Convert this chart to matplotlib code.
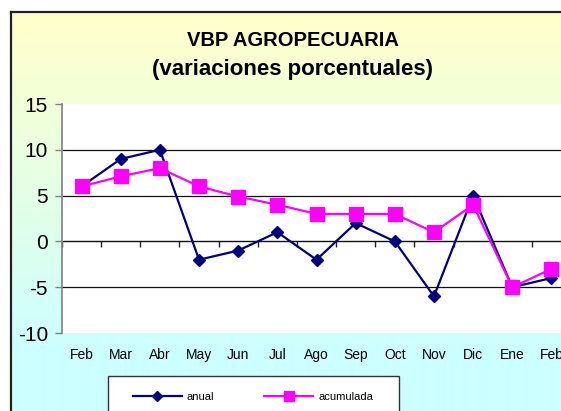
import numpy as np
import matplotlib
matplotlib.use("Agg")
import matplotlib.pyplot as plt
from matplotlib.patches import Rectangle
from matplotlib.lines import Line2D

plt.rcParams['font.family'] = ['Liberation Sans', 'DejaVu Sans']

months = ["Feb", "Mar", "Abr", "May", "Jun", "Jul", "Ago", "Sep", "Oct",
          "Nov", "Dic", "Ene", "Feb"]
anual = [6, 9, 10, -2, -1, 1, -2, 2, 0, -6, 5, -5, -4]
acumulada = [6, 7.1, 8, 6, 4.9, 4, 3, 3, 3, 1, 4, -5, -3]
yticks = [-10, -5, 0, 5, 10, 15]
title1 = "VBP AGROPECUARIA"
title2 = "(variaciones porcentuales)"

W, H = 561, 411
fig = plt.figure(figsize=(W / 100, H / 100), dpi=100)

# background gradient (yellow -> cyan)
bg = fig.add_axes([0, 0, 1, 1], zorder=0)
bg.set_axis_off()
bg.set_xlim(0, W)
bg.set_ylim(H, 0)
top = np.array([1.0, 1.0, 0.80])
bot = np.array([0.80, 1.0, 1.0])
ys = np.linspace(0, H, 400)
t = np.clip((ys - 12) / (345 - 12), 0, 1)[:, None]
grad = (top * (1 - t) + bot * t)[:, None, :]
bg.imshow(grad, extent=[11, W, H, 12], aspect='auto', interpolation='bilinear')
bg.add_patch(Rectangle((0, 0), 11, H, color='white', zorder=1))
bg.add_patch(Rectangle((0, 0), W, 12, color='white', zorder=1))
bg.plot([11, 11], [12, H + 5], color='#222222', lw=1.6, zorder=2, solid_capstyle='projecting')
bg.plot([11, W + 5], [12, 12], color='#222222', lw=1.6, zorder=2, solid_capstyle='projecting')

fig.text(293 / W, 1 - 40 / H, title1, ha='center', va='center',
         fontsize=14.5, fontweight='bold')
fig.text(292 / W, 1 - 70 / H, title2, ha='center', va='center',
         fontsize=16, fontweight='bold')

# plot area
left, right, ptop, pbot = 62, 571, 104, 333
ax = fig.add_axes([left / W, 1 - pbot / H, (right - left) / W, (pbot - ptop) / H], zorder=2)
ax.set_facecolor('white')
x = np.arange(len(months))
ax.set_xlim(-0.5, len(months) - 0.5)
ax.set_ylim(-10, 15)
ax.set_yticks(yticks)
ax.set_yticklabels([str(v) for v in yticks], fontsize=15)
ax.tick_params(axis='y', direction='out', length=5, width=1, color='#808080', pad=5)
ax.set_xticks(x)
ax.set_xticklabels(months, fontsize=10)
ax.tick_params(axis='x', length=0, pad=11)
for s in ['top', 'right', 'bottom']:
    ax.spines[s].set_visible(False)
ax.spines['left'].set_color('#808080')
ax.spines['left'].set_linewidth(1.2)
for v in [10, 5, -5]:
    ax.axhline(v, color='#111111', lw=0.9, zorder=1)

sec = ax.secondary_xaxis(10 / 25)
sec.set_xticks(np.arange(len(months) + 1) - 0.5)
sec.set_xticklabels([])
sec.tick_params(direction='out', length=4, width=1, color='#222222')
sec.spines['bottom'].set_color('#111111')
sec.spines['bottom'].set_linewidth(1.0)

ax.plot(x, anual, color='#000080', lw=1.6, marker='D', markersize=6.5,
        markerfacecolor='#000080', markeredgecolor='#000080', zorder=3, clip_on=False)
ax.plot(x, acumulada, color='#FF00FF', lw=1.6, marker='s', markersize=9.5,
        markerfacecolor='#FF00FF', markeredgecolor='#FF00FF', zorder=4, clip_on=False)

# legend box
bg.add_patch(Rectangle((108, 376), 291, 60, facecolor='white', edgecolor='#333333',
                       lw=1.0, zorder=3))
handles = [Line2D([], [], color='#000080', lw=1.6, marker='D', markersize=5.5),
           Line2D([], [], color='#FF00FF', lw=1.6, marker='s', markersize=7.5)]
leg = fig.legend(handles, ['anual', 'acumulada'], loc='center left',
                 bbox_to_anchor=(133 / W, 1 - 397 / H), bbox_transform=fig.transFigure,
                 ncol=2, frameon=False, fontsize=8, handlelength=4.4,
                 handletextpad=0.45, columnspacing=4.5, borderpad=0, borderaxespad=0)
leg.set_zorder(5)

fig.savefig("out.png", dpi=100)
